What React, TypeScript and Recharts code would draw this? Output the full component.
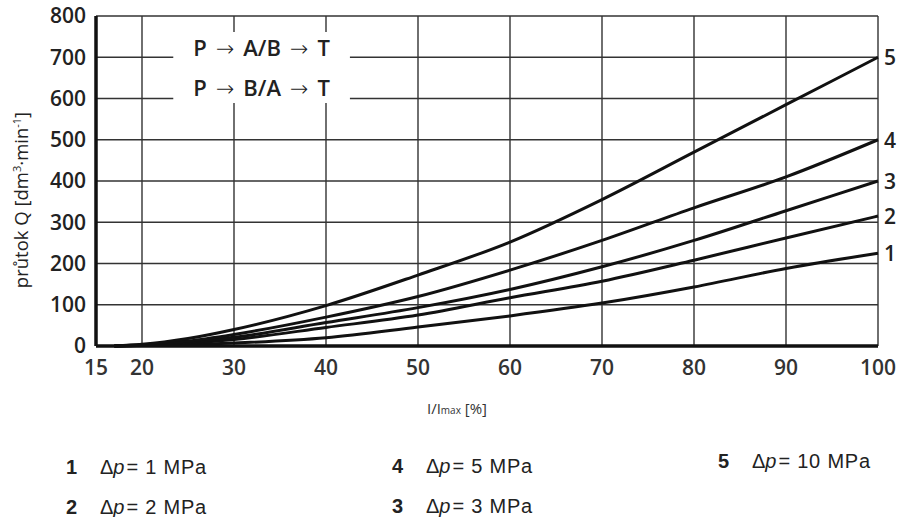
import React from "react";
import {
  LineChart,
  Line,
  XAxis,
  YAxis,
  CartesianGrid,
  ReferenceArea,
  LabelList,
} from "recharts";

// I/Imax [%]
const current = [17, 20, 25, 30, 40, 50, 60, 70, 80, 90, 100];

// flow Q [dm3/min] for each pressure drop
const q1 = [0, 1, 3, 7, 20, 46, 73, 104, 143, 188, 225];
const q2 = [0, 2, 7, 16, 45, 75, 117, 157, 208, 262, 315];
const q3 = [0, 2, 9, 21, 57, 93, 137, 192, 256, 328, 400];
const q4 = [0, 3, 12, 28, 70, 120, 184, 256, 335, 410, 500];
const q5 = [0, 4, 18, 40, 98, 172, 252, 355, 470, 585, 700];

const xTicks = [15, 20, 30, 40, 50, 60, 70, 80, 90, 100];
const yTicks = [0, 100, 200, 300, 400, 500, 600, 700, 800];

const seriesKeys = ["q1", "q2", "q3", "q4", "q5"];
const seriesTags = ["1", "2", "3", "4", "5"];

const legendCol1 = [
  { tag: "1", value: "1" },
  { tag: "2", value: "2" },
];
const legendCol2 = [
  { tag: "4", value: "5" },
  { tag: "3", value: "3" },
];
const legendCol3 = [{ tag: "5", value: "10" }];

const data = current.map((x, i) => ({
  x,
  q1: q1[i],
  q2: q2[i],
  q3: q3[i],
  q4: q4[i],
  q5: q5[i],
}));

const tickFont = "'Open Sans', sans-serif";
const legendFont = "'Liberation Sans', Arial, sans-serif";

const EndLabel = (tag: string) => (props: any) => {
  const { x, y, index } = props;
  if (index !== current.length - 1) return null;
  return (
    <text
      x={x + 6}
      y={y}
      dy={8}
      fontFamily={tickFont}
      fontWeight={600}
      fontSize={21}
      fill="#222"
    >
      {tag}
    </text>
  );
};

const Arrow = () => (
  <tspan fontFamily="'DejaVu Sans', sans-serif" fontWeight={300} fontSize={22} dx={9}>
    →
  </tspan>
);

const Route = ({ x, y, mid }: any) => (
  <text x={x} y={y} dy={8} textAnchor="middle">
    P<Arrow />
    <tspan dx={9}>{mid}</tspan>
    <Arrow />
    <tspan dx={9}>T</tspan>
  </text>
);

const BoxText = (props: any) => {
  const { viewBox } = props;
  const cx = viewBox.x + viewBox.width / 2;
  const cy = viewBox.y + viewBox.height / 2;
  return (
    <g fontFamily={tickFont} fontWeight={600} fontSize={22} fill="#222">
      <Route x={cx} y={cy - 20} mid="A/B" />
      <Route x={cx} y={cy + 20} mid="B/A" />
    </g>
  );
};

const LegendColumn = ({ items, left, top, gap }: any) => (
  <div
    style={{
      position: "absolute",
      left,
      top,
      fontFamily: legendFont,
      fontSize: 20,
      color: "#222",
      lineHeight: "20px",
    }}
  >
    {items.map((it: any, i: number) => (
      <div key={it.tag} style={{ marginTop: i ? gap - 20 : 0, whiteSpace: "nowrap" }}>
        <span style={{ fontWeight: 700, display: "inline-block", width: 34 }}>{it.tag}</span>
        <span>Δ</span>
        <span style={{ fontStyle: "italic", marginRight: 2 }}>p</span>
        <span style={{ marginRight: 7 }}>=</span>
        <span style={{ letterSpacing: 0.8 }}>{it.value} MPa</span>
      </div>
    ))}
  </div>
);

export default function App() {
  return (
    <div style={{ position: "absolute", left: 0, top: 0, width: 898, height: 517, background: "#fff" }}>
      <LineChart
        width={898}
        height={420}
        data={data}
        margin={{ top: 16, right: 20, left: 0, bottom: 44 }}
      >
        <CartesianGrid stroke="#333" strokeWidth={1.4} />
        <ReferenceArea
          x1={23.4}
          x2={42.6}
          y1={589}
          y2={761}
          fill="#fff"
          fillOpacity={1}
          stroke="none"
          label={<BoxText />}
        />
        <XAxis
          dataKey="x"
          type="number"
          domain={[15, 100]}
          ticks={xTicks}
          interval={0}
          height={30}
          tickSize={0}
          tickMargin={14}
          axisLine={{ stroke: "#111", strokeWidth: 3.5 }}
          tick={{ fill: "#333", fontFamily: tickFont, fontSize: 21, fontWeight: 600 }}
        />
        <YAxis
          type="number"
          domain={[0, 800]}
          ticks={yTicks}
          interval={0}
          width={96}
          tickSize={0}
          tickMargin={10}
          axisLine={{ stroke: "#111", strokeWidth: 3.5 }}
          tick={{ fill: "#222", fontFamily: tickFont, fontSize: 21, fontWeight: 600 }}
        />
        {seriesKeys.map((k, i) => (
          <Line
            key={k}
            type="monotone"
            dataKey={k}
            stroke="#111"
            strokeWidth={3}
            dot={false}
            isAnimationActive={false}
          >
            <LabelList dataKey={k} content={EndLabel(seriesTags[i])} />
          </Line>
        ))}
        <text
          transform="translate(28,200) rotate(-90)"
          textAnchor="middle"
          fontFamily={tickFont}
          fontSize={18.5}
          fill="#222"
        >
          průtok Q [dm
          <tspan baselineShift="super" fontSize={11}>3</tspan>
          ·min
          <tspan baselineShift="super" fontSize={11}>-1</tspan>]
        </text>
        <text x={457} y={414} textAnchor="middle" fontFamily={tickFont} fontSize={15} fill="#333">
          I/I<tspan fontSize={10}>max</tspan> [%]
        </text>
      </LineChart>
      <LegendColumn items={legendCol1} left={66} top={457} gap={40} />
      <LegendColumn items={legendCol2} left={392} top={456} gap={40} />
      <LegendColumn items={legendCol3} left={718} top={451} gap={40} />
    </div>
  );
}
